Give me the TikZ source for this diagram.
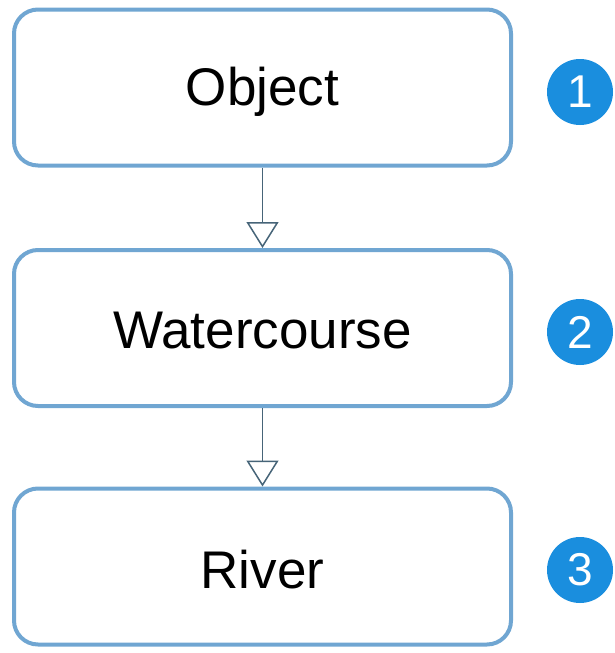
\documentclass[tikz,border=0pt]{standalone}
\usepackage{fontspec}
\setmainfont{Liberation Sans}
\usetikzlibrary{arrows.meta}
\definecolor{boxblue}{RGB}{112,166,210}
\definecolor{dotblue}{RGB}{26,142,222}
\definecolor{arrowgray}{RGB}{70,100,120}
\begin{document}
\begin{tikzpicture}[x=1pt,y=-1pt,
  stepbox/.style={draw=boxblue,line width=4pt,rounded corners=24pt,fill=white,
    minimum width=497pt,minimum height=156pt,inner sep=0pt},
  lbl/.style={font=\fontsize{53}{60}\selectfont,inner sep=0pt},
  badge/.style={circle,fill=dotblue,minimum size=66pt,inner sep=0pt,text=white,
    font=\fontsize{46}{50}\selectfont},
  flow/.style={draw=arrowgray,line width=1.5pt,-{Triangle[open,width=32pt,length=26pt,line width=1.5pt]}}]
\useasboundingbox (0,0) rectangle (615,653);
\node[stepbox] (b1) at (262.5,87.5) {};
\node[stepbox] (b2) at (262.5,328) {};
\node[stepbox] (b3) at (262.5,566.5) {};
\node[lbl] (t1) at (262.5,92) {Object};
\node[lbl] (t2) at (262.5,331) {Watercourse};
\node[lbl] (t3) at (262.5,570) {River};
\node[badge] (n1) at (580,92) {1};
\node[badge] (n2) at (580,332) {2};
\node[badge] (n3) at (580,570) {3};
\draw[flow] (b1.south) -- (b2.north);
\draw[flow] (b2.south) -- (b3.north);
\end{tikzpicture}
\end{document}
